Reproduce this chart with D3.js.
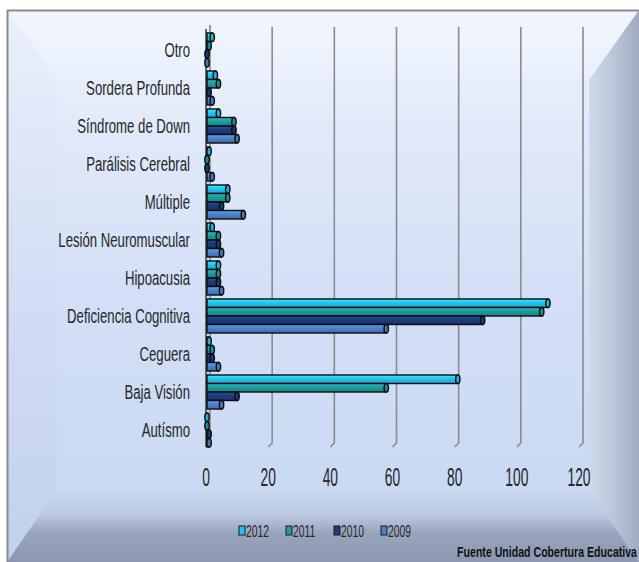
<!DOCTYPE html>
<html>
<head>
<meta charset="utf-8">
<script src="https://cdn.jsdelivr.net/npm/d3@7"></script>
<style>
html,body{margin:0;padding:0;background:#fff;}
svg{display:block;}
text{font-family:"Liberation Sans Narrow","Liberation Sans", Arial, sans-serif;fill:#262626;}
</style>
</head>
<body>
<svg id="chart" width="639" height="562"></svg>
<script>
// ---- data ----
const categories = ["Otro","Sordera Profunda","Síndrome de Down","Parálisis Cerebral","Múltiple","Lesión Neuromuscular","Hipoacusia","Deficiencia Cognitiva","Ceguera","Baja Visión","Autísmo"];
const seriesNames = ["2012","2011","2010","2009"];
const v2012 = [2,3,4,1,7,2,4,110,1,81,0];
const v2011 = [1,4,9,0,7,4,4,108,2,58,0];
const v2010 = [0,1,9,0,5,4,4,89,2,10,1];
const v2009 = [0,2,10,2,12,5,5,58,4,5,1];
const seriesValues = [v2012,v2011,v2010,v2009];
const seriesColors = ["#27c3ef","#1f9b9e","#1f3c7c","#4c82c8"];
const xTicks = [0,20,40,60,80,100,120];
const sourceText = "Fuente Unidad Cobertura Educativa";

const svg = d3.select("#chart");
const defs = svg.append("defs");

function lin(id, x1,y1,x2,y2, stops, units){
  const g = defs.append("linearGradient").attr("id",id)
    .attr("x1",x1).attr("y1",y1).attr("x2",x2).attr("y2",y2);
  if(units) g.attr("gradientUnits",units);
  stops.forEach(s=>g.append("stop").attr("offset",s[0]).attr("stop-color",s[1]));
  return g;
}
// background gradients
lin("gFace",0,10,0,490,[[0,"#eef3fc"],[0.3,"#dfe8f9"],[0.6,"#d3dff6"],[1,"#cad9f3"]],"userSpaceOnUse");
lin("gTop",0,10,0,80,[[0,"#f2f6fd"],[1,"#e9f0fc"]],"userSpaceOnUse");
lin("gLeft",0,10,0,562,[[0,"#eaf0fb"],[0.5,"#d2def4"],[1,"#c2d0ea"]],"userSpaceOnUse");
lin("gRight",589,0,639,0,[[0,"#cfd9ec"],[0.55,"#b9c3d7"],[1,"#a1abc0"]],"userSpaceOnUse");
lin("gBottom",0,490,0,562,[[0,"#c9d7f1"],[0.35,"#bcc8e1"],[0.6,"#98a4bc"],[1,"#8c98b0"]],"userSpaceOnUse");

const bg = svg.append("g");
bg.append("rect").attr("x",7).attr("y",10).attr("width",632).attr("height",552).attr("fill","url(#gFace)");
bg.append("polygon").attr("points","7,10 639,10 589,80 57,80").attr("fill","url(#gTop)");
bg.append("polygon").attr("points","7,10 57,80 57,490 7,562").attr("fill","url(#gLeft)");
bg.append("polygon").attr("points","639,10 639,562 589,490 589,80").attr("fill","url(#gRight)");
bg.append("polygon").attr("points","7,562 639,562 589,490 57,490").attr("fill","url(#gBottom)");
bg.append("rect").attr("x",57).attr("y",80).attr("width",532).attr("height",410).attr("fill","url(#gFace)");
// frame lines
bg.append("line").attr("x1",7).attr("x2",639).attr("y1",10.5).attr("y2",10.5).attr("stroke","#8a8a8a").attr("stroke-width",2);
bg.append("line").attr("x1",7.5).attr("x2",7.5).attr("y1",10).attr("y2",562).attr("stroke","#8a8a8a").attr("stroke-width",2);

// series bar gradients
seriesColors.forEach((c,i)=>{
  const base = d3.color(c);
  lin("gBar"+i,0,0,0,1,[[0,base.brighter(0.6).formatHex()],[0.45,c],[1,base.darker(0.5).formatHex()]]);
});

// scales
const x = d3.scaleLinear().domain([0,120]).range([206,579]);
const y = d3.scaleBand().domain(categories).range([31,449]).padding(0);
const groupH = 34, barH = groupH/4;
const dx = 4, dy = 4; // back-wall offset (3D look)
const yTop = 27, yBot = 443;

// gridlines (back wall) with 3D foot
const grid = svg.append("g");
xTicks.filter(t=>t>0).forEach(t=>{
  const gx = x(t)+dx;
  grid.append("path")
    .attr("d",`M${gx},${yTop}L${gx},${yBot}L${x(t)},${yBot+dy}`)
    .attr("fill","none").attr("stroke","#8b8b8b").attr("stroke-width",1.6);
});
// vertical axis (zero)
grid.append("path")
  .attr("d",`M${x(0)+dx},${yTop-2}L${x(0)+dx},${yBot}L${x(0)},${yBot+dy}`)
  .attr("fill","none").attr("stroke","#9a9a9a").attr("stroke-width",2);
grid.append("line").attr("x1",x(0)).attr("x2",x(0)).attr("y1",yTop+2).attr("y2",yBot+dy)
  .attr("stroke","#3c3c3c").attr("stroke-width",1.5);

// bars
const barsG = svg.append("g");
categories.forEach((cat,ci)=>{
  const cy = y(cat) + y.bandwidth()/2;
  seriesValues.forEach((vals,si)=>{
    const v = vals[ci];
    const by = cy - groupH/2 + si*barH;
    const x0 = x(0)+1, x1 = x(v);
    const w = Math.max(0, x1-x0);
    barsG.append("rect")
      .attr("x",x0).attr("y",by).attr("width",w).attr("height",barH)
      .attr("fill","url(#gBar"+si+")").attr("stroke","#0d0d0d").attr("stroke-width",1.4);
    barsG.append("ellipse")
      .attr("cx",x0+w).attr("cy",by+barH/2).attr("rx",2.2).attr("ry",barH/2)
      .attr("fill", d3.color(seriesColors[si]).darker(0.3).formatHex())
      .attr("stroke","#0d0d0d").attr("stroke-width",1.4);
  });
});

// helper: scale a text horizontally to a target width
function fitX(sel, targetW){
  const tl = sel.node().getComputedTextLength();
  return targetW/tl;
}

// category labels (measured to reference width of "Deficiencia Cognitiva" = 123px)
const catG = svg.append("g");
const probe = catG.append("text").attr("font-size",19.5).text("Deficiencia Cognitiva");
const catScale = fitX(probe,123);
probe.remove();
categories.forEach(cat=>{
  const cy = y(cat) + y.bandwidth()/2;
  catG.append("text")
    .attr("transform",`translate(190,${cy+7}) scale(${catScale},1)`)
    .attr("text-anchor","end").attr("font-size",19.5).text(cat);
});

// x tick labels (digit width ~7.5px)
const tickG = svg.append("g");
const probe2 = tickG.append("text").attr("font-size",25).text("100");
const tickScale = fitX(probe2,23);
probe2.remove();
xTicks.forEach(t=>{
  tickG.append("text")
    .attr("transform",`translate(${x(t)},${486}) scale(${tickScale},1)`)
    .attr("text-anchor","middle").attr("font-size",25).text(t);
});

// legend
const legG = svg.append("g");
const legX = [239,286,334,381];
const probe3 = legG.append("text").attr("font-size",17).text("2012");
const legScale = fitX(probe3,23);
probe3.remove();
seriesNames.forEach((n,i)=>{
  legG.append("rect").attr("x",legX[i]).attr("y",526).attr("width",6).attr("height",9)
    .attr("fill",seriesColors[i]).attr("stroke","#1a1a1a").attr("stroke-width",1);
  legG.append("text")
    .attr("transform",`translate(${legX[i]+7},537) scale(${legScale},1)`)
    .attr("font-size",17).text(n);
});

// source
const src = svg.append("text").attr("font-size",14).attr("font-weight","bold").attr("text-anchor","end")
  .style("fill","#111").text(sourceText);
const sScale = fitX(src,180);
src.attr("transform",`translate(637,557) scale(${sScale},1)`);
</script>
</body>
</html>
